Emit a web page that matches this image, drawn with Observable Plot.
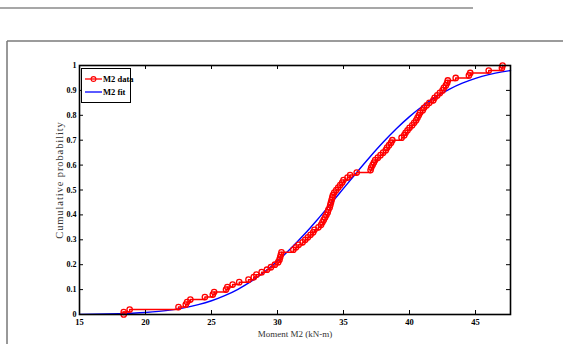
<!DOCTYPE html>
<html>
<head>
<meta charset="utf-8">
<script src="https://cdn.jsdelivr.net/npm/d3@7"></script>
<script src="https://cdn.jsdelivr.net/npm/@observablehq/plot@0.6"></script>
<style>
  html, body { margin: 0; padding: 0; background: #fff; }
  #chart { position: relative; width: 563px; height: 344px; }
</style>
</head>
<body>
<div id="chart"></div>
<script>
const dataX = [18.35, 18.35, 18.8, 22.5, 23.05, 23.15, 23.4, 24.5, 25.1, 25.2,
  26.1, 26.2, 26.6, 27.1, 27.8, 28.2, 28.4, 28.8, 29.2, 29.5,
  29.8, 30.05, 30.15, 30.2, 30.25, 30.3, 31.2, 31.4, 31.6, 31.9,
  32.1, 32.3, 32.5, 32.7, 32.8, 33.1, 33.3, 33.4, 33.5, 33.6,
  33.7, 33.8, 33.85, 33.95, 34.0, 34.05, 34.1, 34.15, 34.2, 34.3,
  34.45, 34.6, 34.75, 34.9, 35.0, 35.3, 35.5, 36.0, 37.05, 37.1,
  37.2, 37.3, 37.4, 37.6, 37.8, 38.0, 38.2, 38.3, 38.45, 38.6,
  38.7, 39.4, 39.6, 39.7, 39.85, 40.0, 40.2, 40.35, 40.5, 40.6,
  40.7, 40.8, 41.0, 41.1, 41.3, 41.5, 41.8, 41.9, 42.1, 42.3,
  42.5, 42.6, 42.75, 42.85, 42.9, 43.5, 44.5, 44.6, 46.0, 47.0, 47.05];
const dataY = [0.00, 0.01, 0.02, 0.03, 0.04, 0.05, 0.06, 0.07, 0.08, 0.09,
  0.10, 0.11, 0.12, 0.13, 0.14, 0.15, 0.16, 0.17, 0.18, 0.19,
  0.20, 0.21, 0.22, 0.23, 0.24, 0.25, 0.26, 0.27, 0.28, 0.29,
  0.30, 0.31, 0.32, 0.33, 0.34, 0.35, 0.36, 0.37, 0.38, 0.39,
  0.40, 0.41, 0.42, 0.43, 0.44, 0.45, 0.46, 0.47, 0.48, 0.49,
  0.50, 0.51, 0.52, 0.53, 0.54, 0.55, 0.56, 0.57, 0.58, 0.59,
  0.60, 0.61, 0.62, 0.63, 0.64, 0.65, 0.66, 0.67, 0.68, 0.69,
  0.70, 0.71, 0.72, 0.73, 0.74, 0.75, 0.76, 0.77, 0.78, 0.79,
  0.80, 0.81, 0.82, 0.83, 0.84, 0.85, 0.86, 0.87, 0.88, 0.89,
  0.90, 0.91, 0.92, 0.93, 0.94, 0.95, 0.96, 0.97, 0.98, 0.99, 1.00];
// Fitted CDF
const fitX = [15, 16, 17, 18, 19, 20, 21, 22, 23, 24, 25, 26, 27, 28, 29, 30, 31,
  32, 33, 34, 35, 36, 37, 38, 39, 40, 41, 42, 43, 44, 45, 46, 47, 47.65];
const fitY = [0.0007, 0.0011, 0.0019, 0.0032, 0.0052, 0.0081, 0.0125, 0.0187, 0.0275,
  0.0394, 0.0551, 0.0756, 0.1013, 0.1329, 0.1706, 0.2147, 0.2647, 0.3199, 0.3797,
  0.4423, 0.5064, 0.5704, 0.6326, 0.6915, 0.7457, 0.7946, 0.8374, 0.8739, 0.9043,
  0.9289, 0.9483, 0.9633, 0.9745, 0.9797];
const xTicks = [15, 20, 25, 30, 35, 40, 45];
const yTicks = [0, 0.1, 0.2, 0.3, 0.4, 0.5, 0.6, 0.7, 0.8, 0.9, 1];
const xTickLabels = ["15", "20", "25", "30", "35", "40", "45"];
const yTickLabels = ["0", "0.1", "0.2", "0.3", "0.4", "0.5", "0.6", "0.7", "0.8", "0.9", "1"];
const xLabel = "Moment M2 (kN-m)";
const yLabel = "Cumulative probability";
const seriesNames = ["M2 data", "M2 fit"];
const seriesColors = ["#ff0000", "#0000ff"];

const data = dataX.map((x, i) => ({x, y: dataY[i]}));
const fit = fitX.map((x, i) => ({x, y: fitY[i]}));

const W = 563, H = 344;
const mL = 79, mR = 53, mT = 65, mB = 30;
const innerW = W - mL - mR, innerH = H - mT - mB;
const font = "'Liberation Serif', 'Times New Roman', serif";

const plot = Plot.plot({
  width: W, height: H,
  marginLeft: mL, marginRight: mR, marginTop: mT, marginBottom: mB,
  style: {fontFamily: font, background: "transparent", overflow: "visible"},
  x: {domain: [15, 47.65], label: null},
  y: {domain: [0, 1], label: null},
  marks: [
    Plot.line(fit, {x: "x", y: "y", stroke: seriesColors[1], strokeWidth: 1.4, curve: "monotone-x"}),
    Plot.line(data, {x: "x", y: "y", stroke: seriesColors[0], strokeWidth: 1.5, curve: "step-after"}),
    Plot.dot(data, {x: "x", y: "y", r: 2.7, stroke: seriesColors[0], strokeWidth: 1.3, fill: "none"}),
    // inward ticks
    Plot.tickX(xTicks, {x: d => d, stroke: "#000", insetTop: innerH - 4}),
    Plot.tickX(xTicks, {x: d => d, stroke: "#000", insetBottom: innerH - 4}),
    Plot.tickY(yTicks, {y: d => d, stroke: "#000", insetRight: innerW - 4}),
    Plot.tickY(yTicks, {y: d => d, stroke: "#000", insetLeft: innerW - 4}),
    Plot.frame({stroke: "#000", strokeWidth: 1.6}),
    Plot.axisX(xTicks, {tickSize: 0, tickPadding: 4, fontSize: 8.5, fontWeight: "bold", fill: "#000",
      tickFormat: (d, i) => xTickLabels[i], label: null}),
    Plot.axisY(yTicks, {tickSize: 0, tickPadding: 3, fontSize: 8, fontWeight: "bold", fill: "#000",
      tickFormat: (d, i) => yTickLabels[i], label: null}),
    Plot.text([xLabel], {frameAnchor: "bottom", dy: 22, text: d => d, fontSize: 9, fill: "#333", textAnchor: "middle"})
  ]
});

document.getElementById("chart").appendChild(plot);

// decorations: page rule and outer frame, y label, legend
const svg = d3.select(plot);
svg.insert("line", ":first-child").attr("x1", 0).attr("x2", 473).attr("y1", 8).attr("y2", 8)
  .attr("stroke", "#8a8a8a").attr("stroke-width", 1.5);
svg.insert("line", ":first-child").attr("x1", 7).attr("x2", W).attr("y1", 41).attr("y2", 41)
  .attr("stroke", "#7a7a7a").attr("stroke-width", 1.5);
svg.insert("line", ":first-child").attr("x1", 7).attr("x2", 7).attr("y1", 41).attr("y2", H)
  .attr("stroke", "#333").attr("stroke-width", 1);

svg.append("text").attr("transform", "translate(63,180) rotate(-90)")
  .attr("text-anchor", "middle").attr("font-family", font).attr("font-size", 10.5)
  .attr("letter-spacing", 0.9).attr("fill", "#333").text(yLabel);

const lg = svg.append("g");
lg.append("rect").attr("x", 81.5).attr("y", 68.5).attr("width", 49).attr("height", 34)
  .attr("fill", "#fff").attr("stroke", "#000").attr("stroke-width", 1);
const rows = [79, 92];
seriesNames.forEach((name, i) => {
  lg.append("line").attr("x1", 85).attr("x2", 102).attr("y1", rows[i]).attr("y2", rows[i])
    .attr("stroke", seriesColors[i]).attr("stroke-width", 1.3);
  if (i === 0) lg.append("circle").attr("cx", 93.5).attr("cy", rows[i]).attr("r", 2.4)
    .attr("fill", "none").attr("stroke", seriesColors[i]).attr("stroke-width", 1.1);
  lg.append("text").attr("x", 103).attr("y", rows[i]).attr("dy", "0.35em")
    .attr("text-anchor", "start")
    .attr("font-family", font).attr("font-size", 8.5).attr("font-weight", "bold").text(name);
});
</script>
</body>
</html>
